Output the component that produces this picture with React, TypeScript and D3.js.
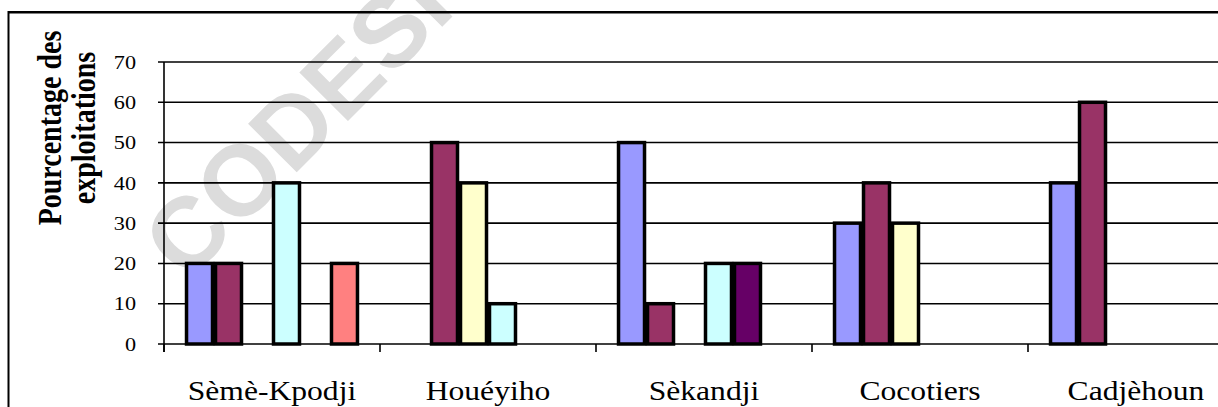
import React from 'react';
import * as d3 from 'd3';

const categories = ['Sèmè-Kpodji', 'Houéyiho', 'Sèkandji', 'Cocotiers', 'Cadjèhoun'];
const seriesNames = ['s1', 's2', 's3', 's4', 's5', 's6'];
const seriesColors = ['#9999FF', '#993366', '#FFFFCC', '#CCFFFF', '#660066', '#FF8080'];
// values per series, one per category
const s1 = [20, 0, 50, 30, 40];
const s2 = [20, 50, 10, 40, 60];
const s3 = [0, 40, 0, 30, 0];
const s4 = [40, 10, 20, 0, 0];
const s5 = [0, 0, 20, 0, 0];
const s6 = [20, 0, 0, 0, 0];
const yTicks = [0, 10, 20, 30, 40, 50, 60, 70];

const seriesValues = [s1, s2, s3, s4, s5, s6];

const W = 1218;
const H = 407;
const plot = { left: 164, top: 62, bottom: 344, catWidth: 216 };
const serif = "'Liberation Serif', 'Times New Roman', Times, 'DejaVu Serif', serif";
// the source picture is stretched a little horizontally
const stretch = 1.17;

export default function App() {
  const x0 = d3.scaleBand()
    .domain(categories)
    .range([plot.left, plot.left + plot.catWidth * categories.length])
    .paddingInner(0)
    .paddingOuter(0);

  const x1 = d3.scaleBand()
    .domain(seriesNames)
    .range([0, x0.bandwidth()])
    .paddingInner(0)
    .paddingOuter(0.725);

  const y = d3.scaleLinear().domain([0, 70]).range([plot.bottom, plot.top]);

  const bars = [];
  categories.forEach((c, ci) => {
    seriesNames.forEach((s, si) => {
      const v = seriesValues[si][ci];
      if (!v) return;
      bars.push({ key: c + s, x: x0(c) + x1(s), y: y(v), h: y(0) - y(v), fill: seriesColors[si] });
    });
  });

  const catTicks = categories.map((c) => x0(c)).concat([x0.range()[1]]);

  return (
    <svg width={W} height={H} style={{ position: 'absolute', left: 0, top: 0, background: '#fff' }}>
      <rect x={0} y={0} width={W} height={H} fill="#fff" />

      {/* watermark */}
      <text
        transform="translate(186,283) rotate(-45)"
        style={{ fontFamily: "'Liberation Sans', Arial, sans-serif" }}
        fontSize={100}
        fontWeight="bold"
        fill="#dcdcdc"
      >
        CODESRIA
      </text>

      {/* outer chart frame (cut at right and bottom) */}
      <rect x={8} y={11} width={W - 8} height={2.5} fill="#000" />
      <rect x={7.5} y={11} width={2} height={H - 11} fill="#000" />

      {/* gridlines */}
      {yTicks.map((t) => (
        <line key={'g' + t} x1={plot.left - 6} x2={W} y1={y(t)} y2={y(t)} stroke="#000" strokeWidth={1.6} />
      ))}

      {/* axes */}
      <line x1={plot.left} x2={plot.left} y1={plot.top} y2={plot.bottom + 8} stroke="#000" strokeWidth={1.6} />
      {catTicks.map((t, i) => (
        <line key={'ct' + i} x1={t} x2={t} y1={plot.bottom} y2={plot.bottom + 8} stroke="#000" strokeWidth={1.6} />
      ))}

      {yTicks.map((t) => (
        <text key={'yl' + t} transform={`translate(136,${y(t)}) scale(${stretch},1)`} dy="0.35em" textAnchor="end"
          style={{ fontFamily: serif }} fontSize={19} fill="#000">
          {t}
        </text>
      ))}

      {bars.map((b) => (
        <rect key={b.key} x={b.x + 1.5} y={b.y} width={x1.bandwidth() - 3} height={b.h} fill={b.fill} stroke="#000" strokeWidth={3.5} />
      ))}

      {categories.map((c) => (
        <text key={'cl' + c} transform={`translate(${x0(c) + x0.bandwidth() / 2},400) scale(${stretch},1)`} textAnchor="middle"
          style={{ fontFamily: serif }} fontSize={27} fill="#000">
          {c}
        </text>
      ))}

      <text transform={`translate(61,128) scale(${stretch},1) rotate(-90)`} textAnchor="middle"
        style={{ fontFamily: serif }} fontSize={28} fontWeight="bold" fill="#000">
        Pourcentage des
      </text>
      <text transform={`translate(95,128) scale(${stretch},1) rotate(-90)`} textAnchor="middle"
        style={{ fontFamily: serif }} fontSize={28} fontWeight="bold" fill="#000">
        exploitations
      </text>
    </svg>
  );
}
